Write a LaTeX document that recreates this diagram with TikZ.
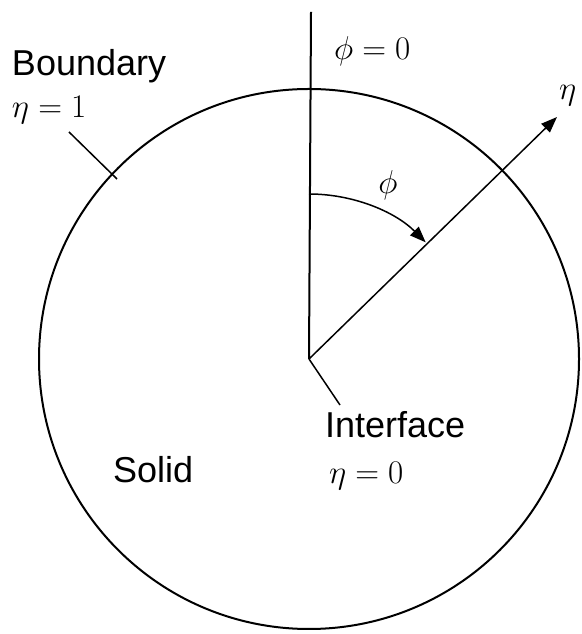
\RequirePackage{fix-cm}
\documentclass[tikz,border=0pt]{standalone}
\usepackage{fontspec}
\setmainfont{Liberation Sans}
\usetikzlibrary{arrows.meta,positioning}

\begin{document}
\begin{tikzpicture}[
  x=1pt, y=1pt,
  every node/.style={inner sep=0pt, outer sep=0pt},
  lbl/.style={font=\fontsize{36}{40}\selectfont, anchor=base west},
  mlbl/.style={font=\fontsize{33}{36}\selectfont, anchor=base west},
  thin line/.style={line width=1.5pt},
  thick line/.style={line width=2pt},
  arr/.style={thin line, -{Triangle[length=16pt, width=12pt]}},
]
\useasboundingbox (0,0) rectangle (581,634);

% solid region
\coordinate (O) at (309,275);
\draw[thick line] (O) circle [radius=270];

% axes
\coordinate (top) at (311,622);
\coordinate (tip) at (557,517);
\draw[thick line] (O) -- (top);
\draw[arr] (O) -- (tip);
\draw[arr] (O) ++(90:165) arc [start angle=90, end angle=45, radius=165];

\node[mlbl] (phi0) at (334,574) {$\phi=0$};
\node[mlbl] (eta) at (559,534) {$\eta$};
\node[mlbl, anchor=center] (phi) at (388,449) {$\phi$};

% boundary
\node[lbl] (bnd) at (12,558) {Boundary};
\node[mlbl] (eta1) at (12,516) {$\eta=1$};
\coordinate (bndA) at (69,502);
\coordinate (bndB) at (117,455);
\draw[thin line] (bndA) -- (bndB);

% interface
\coordinate (intfA) at (340,229);
\draw[thin line] (O) -- (intfA);
\node[lbl] (intf) at (325,196) {Interface};
\node[mlbl] (eta0) at (329,150) {$\eta=0$};

\node[lbl] (solid) at (113,151) {Solid};

\end{tikzpicture}
\end{document}
